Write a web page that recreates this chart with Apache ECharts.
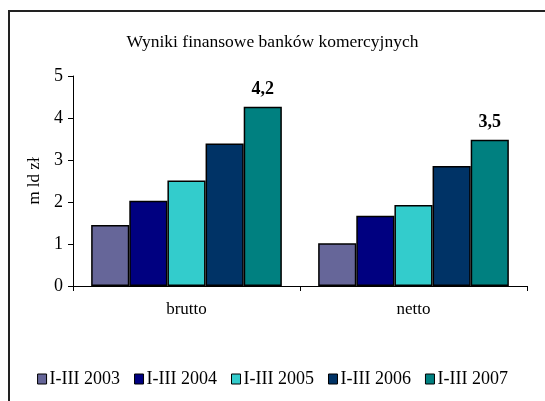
<!DOCTYPE html>
<html>
<head>
<meta charset="utf-8">
<script src="https://cdn.jsdelivr.net/npm/echarts@6/dist/echarts.min.js"></script>
<style>
  html, body { margin: 0; padding: 0; background: #fff; }
  #chart { width: 545px; height: 401px; }
</style>
</head>
<body>
<div id="chart"></div>
<script>
// chart data
const categories = ['brutto', 'netto'];
const seriesNames = ['I-III 2003', 'I-III 2004', 'I-III 2005', 'I-III 2006', 'I-III 2007'];
const v2003 = [1.45, 1.02];
const v2004 = [2.03, 1.67];
const v2005 = [2.51, 1.93];
const v2006 = [3.39, 2.86];
const v2007 = [4.27, 3.48];
const labels2007 = ['4,2', '3,5'];
const yTicks = [0, 1, 2, 3, 4, 5];

const colors = ['#666699', '#000080', '#33CCCC', '#003366', '#008080'];
const font = 'Liberation Serif, Times New Roman, serif';

const chart = echarts.init(document.getElementById('chart'));

const values = [v2003, v2004, v2005, v2006, v2007];
const series = seriesNames.map((name, i) => ({
  name: name,
  type: 'bar',
  data: values[i],
  barGap: '0%',
  barCategoryGap: '16%',
  itemStyle: { color: colors[i], borderColor: '#000', borderWidth: 1.5 },
  label: i === 4 ? {
    show: true,
    position: 'top',
    distance: 8,
    fontFamily: font,
    fontWeight: 'bold',
    fontSize: 18,
    color: '#000',
    formatter: p => labels2007[p.dataIndex]
  } : { show: false },
  animation: false
}));

chart.setOption({
  animation: false,
  color: colors,
  title: {
    text: 'Wyniki finansowe banków komercyjnych',
    left: 'center',
    top: 28,
    textStyle: { fontFamily: font, fontWeight: 'normal', fontSize: 17.5, color: '#000' }
  },
  graphic: [{
    type: 'rect',
    shape: { x: 9, y: 11, width: 600, height: 500 },
    style: { fill: 'none', stroke: '#222', lineWidth: 2 },
    silent: true
  }],
  grid: { left: 73, right: 18, top: 76, bottom: 115 },
  legend: {
    bottom: 8,
    left: 'center',
    itemWidth: 9,
    itemHeight: 10,
    itemGap: 14,
    icon: 'rect',
    itemStyle: { borderColor: '#000', borderWidth: 1 },
    textStyle: { fontFamily: font, fontSize: 18, color: '#000', padding: [0, 0, 0, -2] },
    data: seriesNames
  },
  xAxis: {
    type: 'category',
    data: categories,
    axisLine: { lineStyle: { color: '#000', width: 1 } },
    axisTick: { show: true, length: 5, lineStyle: { color: '#000' } },
    axisLabel: { fontFamily: font, fontSize: 17, color: '#000', margin: 15 }
  },
  yAxis: {
    type: 'value',
    min: yTicks[0],
    max: yTicks[yTicks.length - 1],
    interval: 1,
    name: 'm ld zł',
    nameLocation: 'middle',
    nameGap: 28,
    nameTextStyle: { fontFamily: font, fontSize: 17, color: '#000' },
    splitLine: { show: false },
    axisLine: { show: true, lineStyle: { color: '#000', width: 1 } },
    axisTick: { show: true, length: 5, lineStyle: { color: '#000' } },
    axisLabel: { fontFamily: font, fontSize: 18, color: '#000', margin: 10 }
  },
  series: series
});
</script>
</body>
</html>
